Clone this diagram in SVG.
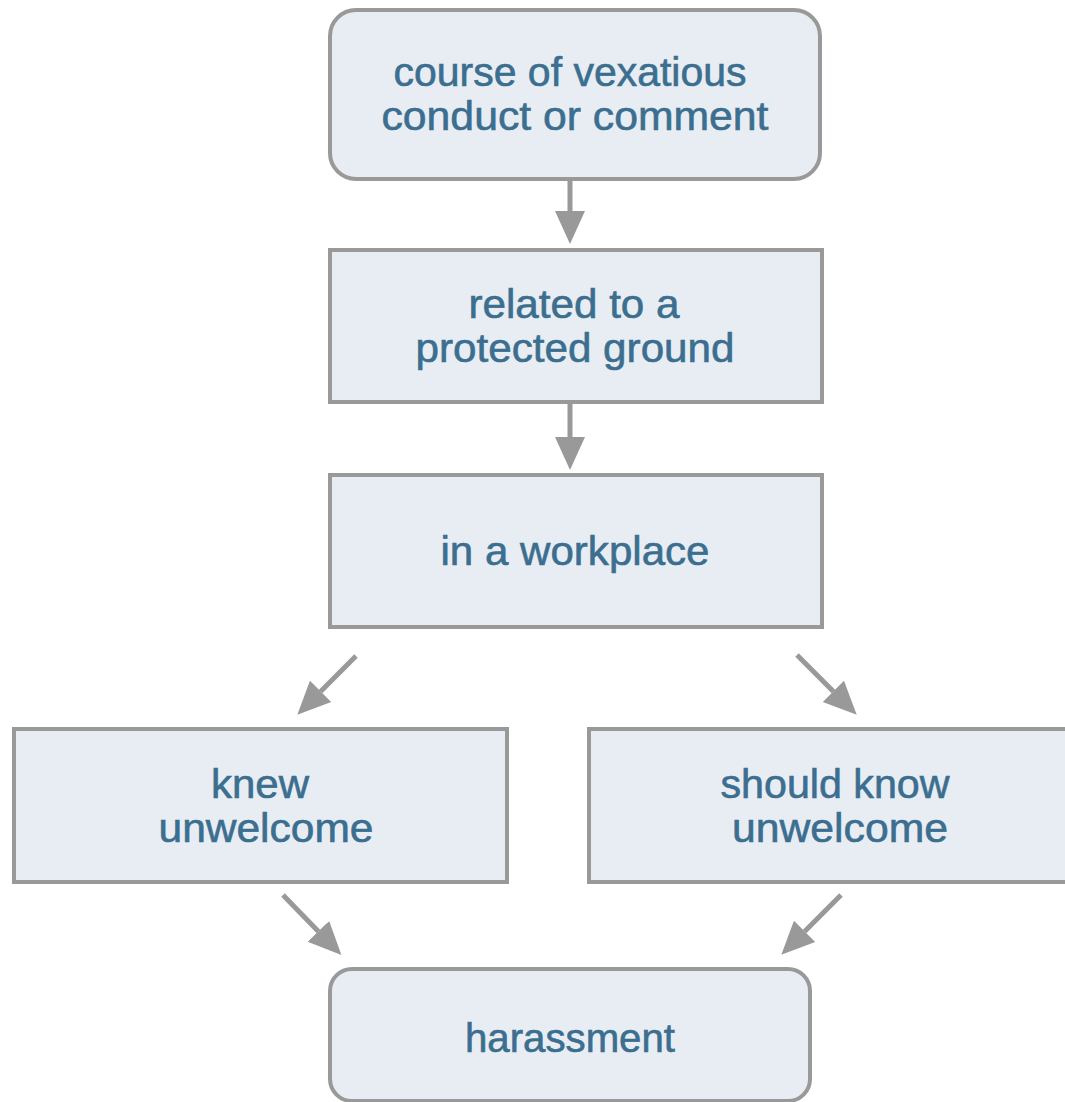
<svg xmlns="http://www.w3.org/2000/svg" width="1065" height="1102" viewBox="0 0 1065 1102">
<style>
.box{fill:#e7edf3;stroke:#999999;stroke-width:4}
.t{font-family:"Liberation Sans",Arial,sans-serif;font-size:40px;fill:#3b6e8f;stroke:#3b6e8f;stroke-width:0.6;text-anchor:middle}
.c{stroke:#999999;stroke-width:5;fill:none}
</style>
<defs>
<marker id="ah" markerUnits="userSpaceOnUse" markerWidth="34" markerHeight="32" refX="0" refY="16" orient="auto" viewBox="0 0 34 32">
<path d="M0,1 L33,16 L0,31 z" fill="#999999"/>
</marker>
</defs>
<rect width="1065" height="1102" fill="#ffffff"/>
<g id="connectors">
<line class="c" x1="570" y1="179" x2="570" y2="211" marker-end="url(#ah)"/>
<line class="c" x1="570" y1="402" x2="570" y2="437" marker-end="url(#ah)"/>
<line class="c" x1="356" y1="656" x2="320.6" y2="691.4" marker-end="url(#ah)"/>
<line class="c" x1="797" y1="655" x2="833.4" y2="691.4" marker-end="url(#ah)"/>
<line class="c" x1="283" y1="895" x2="318.4" y2="931.4" marker-end="url(#ah)"/>
<line class="c" x1="841" y1="895" x2="804.6" y2="931.4" marker-end="url(#ah)"/>
</g>
<g id="node-course">
<rect class="box" x="330" y="10" width="490" height="169" rx="26" ry="26"/>
<text class="t" x="570" y="86" textLength="353" lengthAdjust="spacingAndGlyphs">course of vexatious</text>
<text class="t" x="575" y="130" textLength="387" lengthAdjust="spacingAndGlyphs">conduct or comment</text>
</g>
<g id="node-related">
<rect class="box" x="330" y="250" width="492" height="152"/>
<text class="t" x="574" y="318" textLength="211" lengthAdjust="spacingAndGlyphs">related to a</text>
<text class="t" x="575" y="362" textLength="319" lengthAdjust="spacingAndGlyphs">protected ground</text>
</g>
<g id="node-workplace">
<rect class="box" x="330" y="475" width="492" height="152"/>
<text class="t" x="575" y="565" textLength="269" lengthAdjust="spacingAndGlyphs">in a workplace</text>
</g>
<g id="node-knew">
<rect class="box" x="14" y="729" width="493" height="153"/>
<text class="t" x="260" y="798" textLength="98" lengthAdjust="spacingAndGlyphs">knew</text>
<text class="t" x="266" y="842" textLength="215" lengthAdjust="spacingAndGlyphs">unwelcome</text>
</g>
<g id="node-should">
<rect class="box" x="589" y="729" width="495" height="153"/>
<text class="t" x="835" y="798" textLength="229" lengthAdjust="spacingAndGlyphs">should know</text>
<text class="t" x="840" y="842" textLength="216" lengthAdjust="spacingAndGlyphs">unwelcome</text>
</g>
<g id="node-harassment">
<rect class="box" x="330" y="969" width="480" height="132" rx="22" ry="22"/>
<text class="t" x="570" y="1052" textLength="210" lengthAdjust="spacingAndGlyphs">harassment</text>
</g>
</svg>
